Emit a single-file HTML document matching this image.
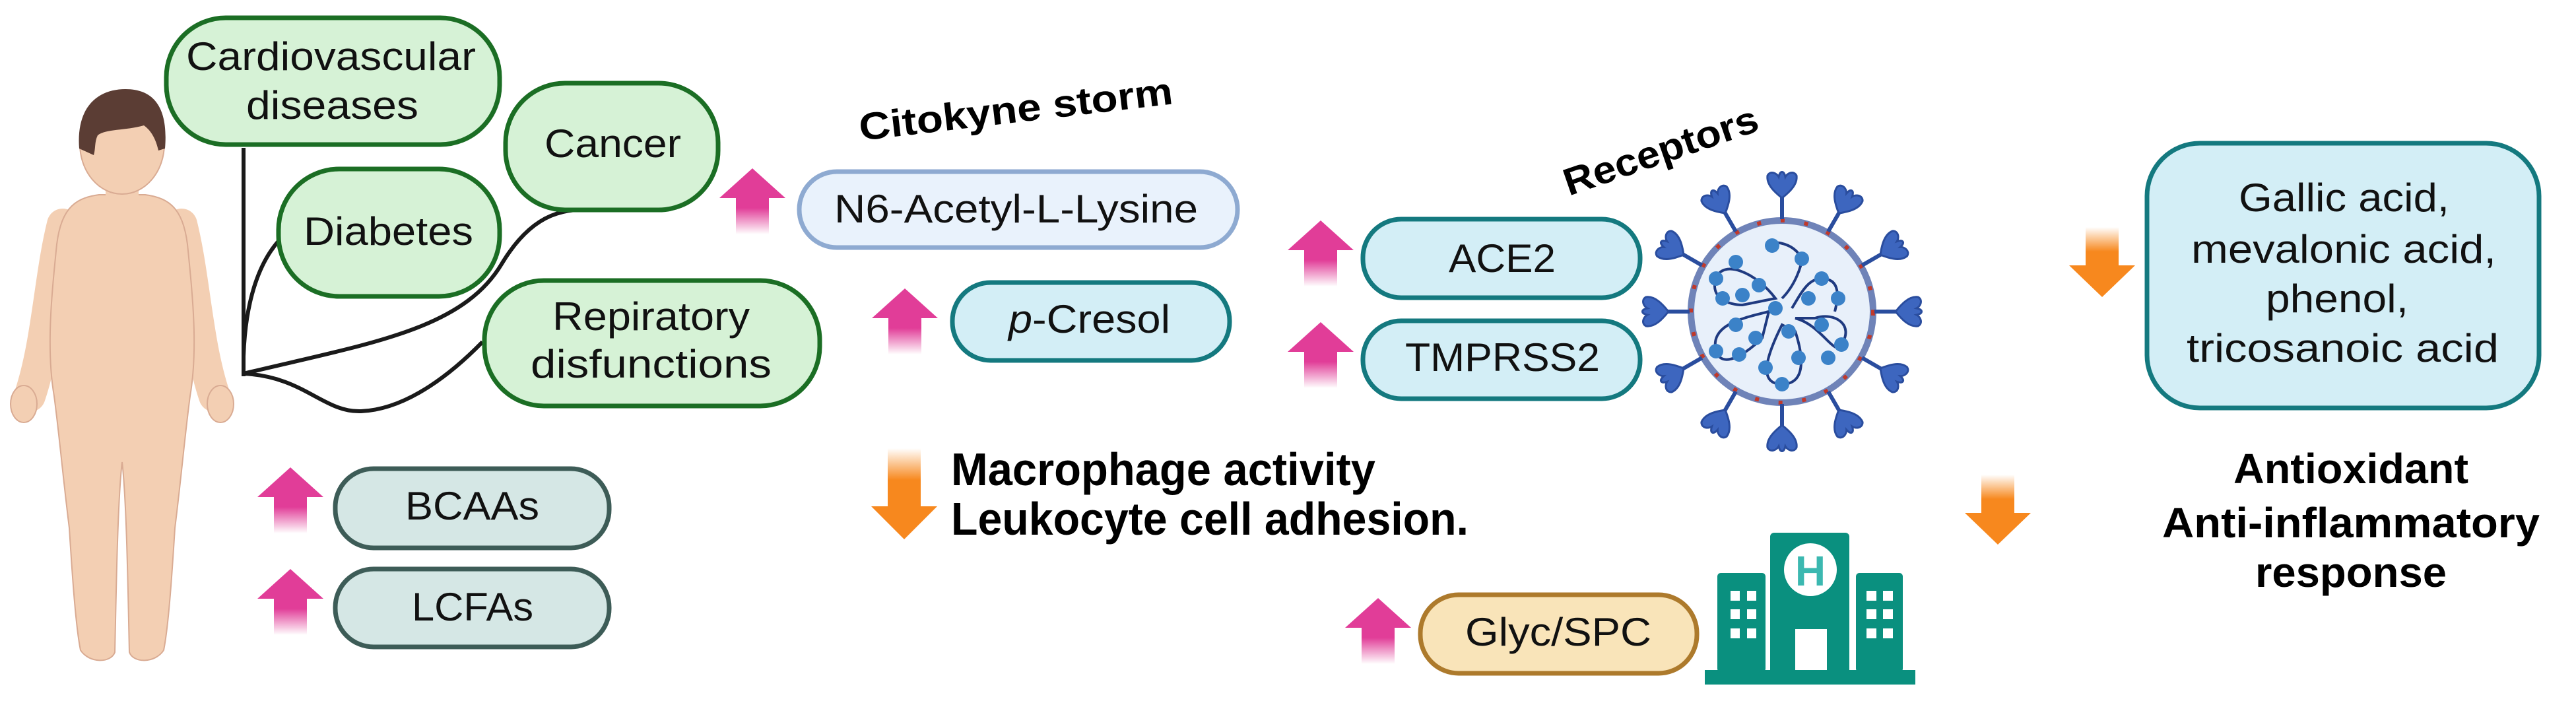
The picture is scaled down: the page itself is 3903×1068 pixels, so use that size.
<!DOCTYPE html>
<html><head><meta charset="utf-8"><style>html,body{margin:0;padding:0;background:#fff}svg{display:block}text{font-family:"Liberation Sans",sans-serif}</style></head>
<body>
<svg width="3903" height="1068" viewBox="0 0 3903 1068" xmlns="http://www.w3.org/2000/svg">
<defs>
<linearGradient id="pk" x1="0" y1="0" x2="0" y2="1"><stop offset="0" stop-color="#e13d98"/><stop offset="0.6" stop-color="#e13d98"/><stop offset="1" stop-color="#e13d98" stop-opacity="0"/></linearGradient>
<linearGradient id="og" x1="0" y1="0" x2="0" y2="1"><stop offset="0" stop-color="#f7881e" stop-opacity="0"/><stop offset="0.35" stop-color="#f7881e"/><stop offset="1" stop-color="#f7881e"/></linearGradient>
<g id="up"><path d="M0,45 L50,0 L100,45 L75,45 L75,100 L25,100 L25,45 Z" fill="url(#pk)"/></g>
<g id="dn"><path d="M25,0 L75,0 L75,88 L100,88 L50,138 L0,88 L25,88 Z" fill="url(#og)"/></g>
<g id="dns"><path d="M25,0 L75,0 L75,58 L100,58 L50,106 L0,58 L25,58 Z" fill="url(#og)"/></g>
<g id="spike" fill="#3d66bf" stroke="#2a4d9e" stroke-width="3"><line x1="0" y1="-140" x2="0" y2="-178" stroke-width="6"/><path d="M0,-172 C-10,-180 -24,-192 -22,-206 C-18,-214 -8,-210 -5,-204 C-3,-214 3,-214 5,-204 C8,-210 18,-214 22,-206 C24,-192 10,-180 0,-172 Z"/></g>
</defs>

<!-- person -->
<g fill="#f3cfb3" stroke="#d9ab93" stroke-width="2">
<path d="M95,340 C75,420 72,520 45,600" stroke="#f3cfb3" stroke-width="48" stroke-linecap="round" fill="none"/>
<path d="M275,340 C295,420 298,520 325,600" stroke="#f3cfb3" stroke-width="48" stroke-linecap="round" fill="none"/>
<ellipse cx="36" cy="612" rx="20" ry="28"/>
<ellipse cx="334" cy="612" rx="20" ry="28"/>
<path d="M150,295 C110,300 90,320 85,380 C78,450 70,530 82,600 C90,660 95,720 105,800 C110,880 115,950 122,985 C135,1005 168,1005 174,988 C176,900 178,760 185,700 C192,760 194,900 196,988 C202,1005 235,1005 248,985 C255,950 260,880 265,800 C275,720 280,660 288,600 C300,530 292,450 285,380 C280,320 260,300 220,295 Z"/>
<rect x="160" y="270" width="50" height="35" stroke="none"/>
<ellipse cx="185" cy="218" rx="64" ry="76"/>
</g>
<path d="M120,225 C115,160 150,135 190,135 C235,135 255,165 250,225 L240,228 C235,205 225,195 218,190 C190,198 160,195 148,205 C143,215 145,225 142,235 Z" fill="#5b3d34"/>

<!-- connectors -->
<g fill="none" stroke="#1a1a1a" stroke-width="6">
<path d="M369,224 L369,570"/>
<path d="M369,540 C372,450 395,395 423,364"/>
<path d="M369,566 C560,520 700,500 760,400 S880,320 929,317"/>
<path d="M369,566 C460,570 490,625 547,623 C620,620 690,560 731,518"/>
</g>

<!-- disease boxes -->
<g fill="#d6f2d6" stroke="#1b6e24" stroke-width="7">
<rect x="252" y="27" width="505" height="192" rx="90"/>
<rect x="766" y="126" width="322" height="192" rx="90"/>
<rect x="422" y="256" width="335" height="193" rx="92"/>
<rect x="734" y="425" width="508" height="190" rx="90"/>
</g>
<g font-size="60" fill="#111">
<text x="282" y="106" textLength="439" lengthAdjust="spacingAndGlyphs">Cardiovascular</text>
<text x="373" y="180" textLength="261" lengthAdjust="spacingAndGlyphs">diseases</text>
<text x="825" y="238" textLength="207" lengthAdjust="spacingAndGlyphs">Cancer</text>
<text x="460" y="371" textLength="257" lengthAdjust="spacingAndGlyphs">Diabetes</text>
<text x="837" y="500" textLength="299" lengthAdjust="spacingAndGlyphs">Repiratory</text>
<text x="804" y="572" textLength="365" lengthAdjust="spacingAndGlyphs">disfunctions</text>
</g>

<!-- BCAAs / LCFAs -->
<g fill="#d5e7e5" stroke="#3d5c57" stroke-width="7">
<rect x="508" y="710" width="415" height="120" rx="58"/>
<rect x="508" y="862" width="415" height="118" rx="58"/>
</g>
<use href="#up" x="390" y="708"/>
<use href="#up" x="390" y="862"/>
<text x="614" y="787" font-size="60" textLength="203" lengthAdjust="spacingAndGlyphs" fill="#111">BCAAs</text>
<text x="624" y="940" font-size="60" textLength="184" lengthAdjust="spacingAndGlyphs" fill="#111">LCFAs</text>

<!-- cytokine -->
<text x="1304" y="213" font-size="58" font-weight="bold" transform="rotate(-6.7 1304 213)" textLength="478" lengthAdjust="spacingAndGlyphs">Citokyne storm</text>
<rect x="1211" y="260" width="664" height="115" rx="57" fill="#e9f2fc" stroke="#8eaad1" stroke-width="7"/>
<use href="#up" x="1090" y="255"/>
<text x="1264" y="337" font-size="60" textLength="551" lengthAdjust="spacingAndGlyphs" fill="#111">N6-Acetyl-L-Lysine</text>
<rect x="1443" y="428" width="420" height="118" rx="58" fill="#d3eef6" stroke="#14797f" stroke-width="7"/>
<use href="#up" x="1321" y="437"/>
<text x="1528" y="504" font-size="60" textLength="245" lengthAdjust="spacingAndGlyphs" fill="#111"><tspan font-style="italic">p</tspan>-Cresol</text>

<!-- macrophage -->
<use href="#dn" x="1320" y="679"/>
<g font-size="70" font-weight="bold" fill="#000">
<text x="1441" y="735" textLength="643" lengthAdjust="spacingAndGlyphs">Macrophage activity</text>
<text x="1441" y="810" textLength="784" lengthAdjust="spacingAndGlyphs">Leukocyte cell adhesion.</text>
</g>

<!-- receptors -->
<text x="2377" y="297" font-size="58" font-weight="bold" transform="rotate(-19 2377 297)" textLength="308" lengthAdjust="spacingAndGlyphs">Receptors</text>
<g fill="#d3eef6" stroke="#14797f" stroke-width="7">
<rect x="2065" y="332" width="420" height="119" rx="58"/>
<rect x="2065" y="486" width="420" height="118" rx="58"/>
</g>
<use href="#up" x="1951" y="334"/>
<use href="#up" x="1951" y="488"/>
<text x="2195" y="412" font-size="60" textLength="162" lengthAdjust="spacingAndGlyphs" fill="#111">ACE2</text>
<text x="2129" y="562" font-size="60" textLength="295" lengthAdjust="spacingAndGlyphs" fill="#111">TMPRSS2</text>

<!-- virus -->
<g>
<circle cx="2700" cy="472" r="138" fill="#e8f0fa" stroke="#6f83b8" stroke-width="10"/>
<circle cx="2700" cy="472" r="138" fill="none" stroke="#c0392b" stroke-width="6" stroke-dasharray="6 30"/>
<g transform="translate(2700,472)">
<use href="#spike" transform="rotate(0)"/><use href="#spike" transform="rotate(30)"/><use href="#spike" transform="rotate(60)"/><use href="#spike" transform="rotate(90)"/><use href="#spike" transform="rotate(120)"/><use href="#spike" transform="rotate(150)"/><use href="#spike" transform="rotate(180)"/><use href="#spike" transform="rotate(210)"/><use href="#spike" transform="rotate(240)"/><use href="#spike" transform="rotate(270)"/><use href="#spike" transform="rotate(300)"/><use href="#spike" transform="rotate(330)"/>
<g fill="none" stroke="#1f3a80" stroke-width="4">
<path d="M-10,-20 C-40,-60 -90,-80 -100,-50 C-110,-20 -80,-10 -60,-10 Z"/>
<path d="M-20,0 C-60,10 -110,20 -100,60 C-90,90 -50,60 -30,40 Z"/>
<path d="M0,20 C-20,60 -40,110 0,110 C40,110 30,60 20,30 Z"/>
<path d="M20,10 C60,20 80,70 90,50 C110,20 80,0 50,10 Z"/>
<path d="M15,-5 C30,-30 40,-50 60,-50 C90,-50 85,-20 80,0"/>
<path d="M0,-20 C20,-40 30,-70 30,-80 C20,-100 0,-105 -15,-105"/>
</g>
<g fill="#3b82c8">
<circle cx="-100" cy="-50" r="11"/><circle cx="-70" cy="-75" r="11"/><circle cx="-60" cy="-25" r="11"/><circle cx="-35" cy="-40" r="11"/><circle cx="-90" cy="-20" r="11"/>
<circle cx="-100" cy="60" r="11"/><circle cx="-70" cy="20" r="11"/><circle cx="-40" cy="40" r="11"/><circle cx="-65" cy="65" r="11"/>
<circle cx="0" cy="110" r="11"/><circle cx="-25" cy="85" r="11"/><circle cx="25" cy="70" r="11"/><circle cx="10" cy="30" r="11"/>
<circle cx="60" cy="-50" r="11"/><circle cx="85" cy="-20" r="11"/><circle cx="40" cy="-20" r="11"/>
<circle cx="60" cy="20" r="11"/><circle cx="90" cy="50" r="11"/><circle cx="70" cy="70" r="11"/>
<circle cx="30" cy="-80" r="11"/><circle cx="-15" cy="-100" r="11"/><circle cx="-10" cy="-5" r="11"/>
</g>
</g>
</g>

<!-- right box -->
<use href="#dns" x="3135" y="344"/>
<rect x="3253" y="217" width="594" height="401" rx="80" fill="#d3eef6" stroke="#14797f" stroke-width="7"/>
<g font-size="60" fill="#111">
<text x="3392" y="320" textLength="319" lengthAdjust="spacingAndGlyphs">Gallic acid,</text>
<text x="3320" y="398" textLength="462" lengthAdjust="spacingAndGlyphs">mevalonic acid,</text>
<text x="3433" y="473" textLength="216" lengthAdjust="spacingAndGlyphs">phenol,</text>
<text x="3313" y="548" textLength="473" lengthAdjust="spacingAndGlyphs">tricosanoic acid</text>
</g>
<use href="#dns" x="2977" y="719"/>
<g font-size="64" font-weight="bold" fill="#000">
<text x="3384" y="732" textLength="356" lengthAdjust="spacingAndGlyphs">Antioxidant</text>
<text x="3276" y="814" textLength="572" lengthAdjust="spacingAndGlyphs">Anti-inflammatory</text>
<text x="3417" y="889" textLength="290" lengthAdjust="spacingAndGlyphs">response</text>
</g>

<!-- Glyc/SPC -->
<rect x="2152" y="901" width="419" height="119" rx="58" fill="#f9e4b9" stroke="#ad7a2c" stroke-width="7"/>
<use href="#up" x="2038" y="906"/>
<text x="2220" y="978" font-size="60" textLength="282" lengthAdjust="spacingAndGlyphs" fill="#111">Glyc/SPC</text>

<!-- hospital -->
<g fill="#0a907f">
<rect x="2583" y="1015" width="319" height="22"/>
<rect x="2682" y="807" width="120" height="215" rx="6"/>
<rect x="2602" y="868" width="73" height="150" rx="5"/>
<rect x="2812" y="868" width="71" height="150" rx="5"/>
</g>
<circle cx="2743" cy="863" r="40" fill="#fff"/>
<text x="2743" y="887" font-size="64" font-weight="bold" text-anchor="middle" fill="#3bb8b0">H</text>
<g fill="#fff">
<rect x="2720" y="953" width="48" height="62"/>
<rect x="2622" y="895" width="14" height="15"/><rect x="2647" y="895" width="14" height="15"/>
<rect x="2622" y="923" width="14" height="15"/><rect x="2647" y="923" width="14" height="15"/>
<rect x="2622" y="952" width="14" height="15"/><rect x="2647" y="952" width="14" height="15"/>
<rect x="2828" y="895" width="15" height="15"/><rect x="2853" y="895" width="15" height="15"/>
<rect x="2828" y="923" width="15" height="15"/><rect x="2853" y="923" width="15" height="15"/>
<rect x="2828" y="952" width="15" height="15"/><rect x="2853" y="952" width="15" height="15"/>
</g>
</svg>
</body></html>
